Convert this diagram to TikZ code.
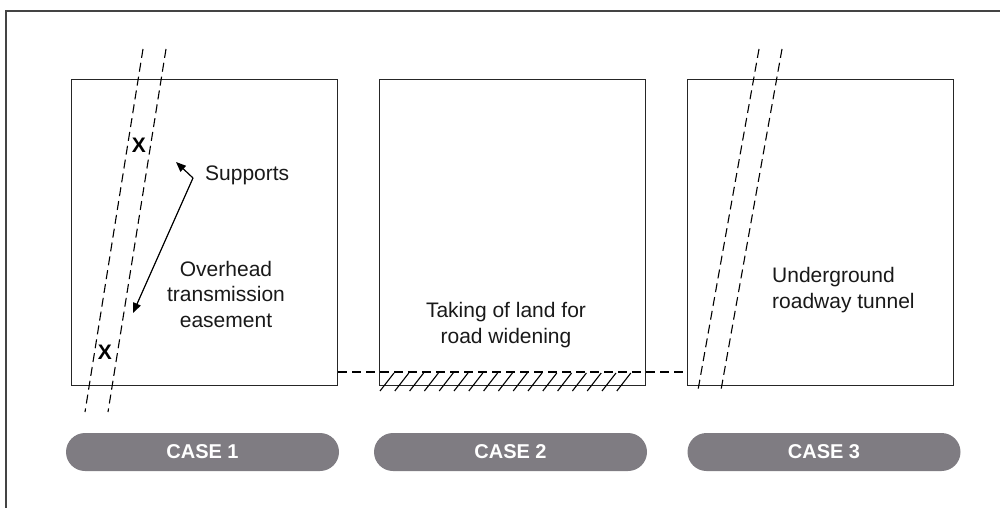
\documentclass[tikz,border=0pt]{standalone}
\usepackage{fontspec}
\setmainfont{Liberation Sans}
\usetikzlibrary{arrows.meta}
\definecolor{pillgray}{HTML}{7F7C82}
\definecolor{framegray}{HTML}{444444}
\tikzset{
  plot box/.style={draw=black!85, line width=1.4pt, minimum width=266pt, minimum height=306pt, inner sep=0pt, anchor=north west},
  dashline/.style={draw=black, line width=1.1pt, dash pattern=on 9pt off 5pt},
  hatchline/.style={draw=black, line width=1.1pt},
  pill/.style={fill=pillgray, rounded corners=19pt, minimum width=273pt, minimum height=38pt, inner sep=0pt, text=white, font=\fontsize{20}{24}\selectfont\bfseries},
  lbl/.style={font=\fontsize{21}{25.5}\selectfont, inner sep=0pt, text=black!90},
  xmark/.style={font=\fontsize{21}{24}\selectfont\bfseries, inner sep=0pt},
  ptr/.style={draw=black, line width=1.2pt, -{Triangle[length=10pt,width=8pt]}},
}
\begin{document}
\begin{tikzpicture}[x=1pt,y=-1pt]
\useasboundingbox (0,0) rectangle (1000,508);
% outer frame (top and left edges visible)
\draw[framegray, line width=2pt] (6,508) -- (6,11) -- (1000,11);
% boxes
\node[plot box] (b1) at (71,79) {};
\node[plot box] (b2) at (379,79) {};
\node[plot box] (b3) at (687,79) {};
% horizontal dashed ground line
\coordinate (g1) at (b1.east |- 0,372);
\coordinate (g3) at (b3.west |- 0,372);
\draw[dashline] (g1) -- (g3);
% hatching under case 2
\foreach \i in {0,...,16} {
  \draw[hatchline] ({380+14.8*\i},391) -- ({394+14.8*\i},373);
}
% case 1 easement lines
\coordinate (a1t) at (143,49);
\coordinate (a1b) at (85,412);
\coordinate (a2t) at (166,49);
\coordinate (a2b) at (108,412);
\draw[dashline] (a1t) -- (a1b);
\draw[dashline] (a2t) -- (a2b);
\node[xmark] (x1) at (139,145) {X};
\node[xmark] (x2) at (105,352) {X};
% supports label and pointers
\node[lbl, anchor=west] (sup) at (205,175) {Supports};
\coordinate (v) at (193,178);
\coordinate (t1) at (176,162);
\coordinate (t2) at (133,313);
\draw[ptr] (v) -- (t1);
\draw[ptr] (v) -- (t2);
\node[lbl, align=center] (oh) at (226,294) {Overhead\\transmission\\easement};
% case 2 text
\node[lbl, align=center] (tk) at (506,325) {Taking of land for\\road widening};
% case 3 tunnel lines
\coordinate (c1t) at (759,49);
\coordinate (c1b) at (698,390);
\coordinate (c2t) at (782,49);
\coordinate (c2b) at (721,390);
\draw[dashline] (c1t) -- (c1b);
\draw[dashline] (c2t) -- (c2b);
\node[lbl, align=left, anchor=west] (ug) at (772,290) {Underground\\roadway tunnel};
% pills
\node[pill] (p1) at (202.5,452) {CASE 1};
\node[pill] (p2) at (510.5,452) {CASE 2};
\node[pill] (p3) at (824,452) {CASE 3};
\end{tikzpicture}
\end{document}
